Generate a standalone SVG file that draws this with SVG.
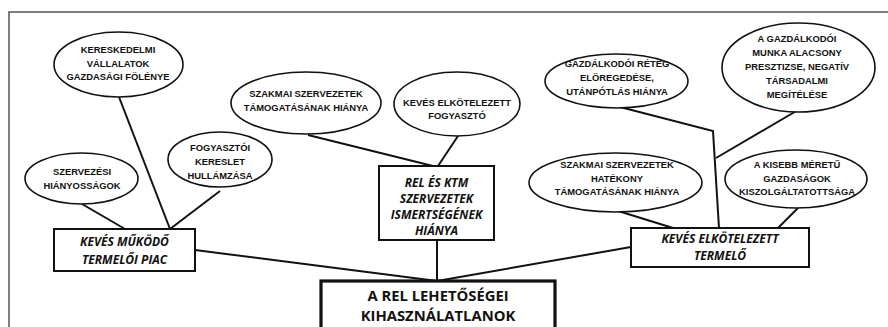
<svg xmlns="http://www.w3.org/2000/svg" width="888" height="327" viewBox="0 0 888 327">
<style>
.frame{fill:none;stroke:#555;stroke-width:1.5}
.ell{fill:#fff;stroke:#111;stroke-width:1.6}
.box{fill:#fff;stroke:#111;stroke-width:2}
.main{fill:#fff;stroke:#111;stroke-width:3.2}
.con{stroke:#111;stroke-width:2;fill:none}
.t{font-family:"Liberation Sans",Arial,sans-serif;font-weight:bold;font-size:9.4px;fill:#111;text-anchor:middle}
.bt{font-family:"Open Sans","Liberation Sans",sans-serif;font-weight:bold;font-style:italic;font-size:12px;fill:#111;text-anchor:middle}
.mt{font-family:"Open Sans","Liberation Sans",sans-serif;font-weight:bold;font-size:14.8px;fill:#111;text-anchor:middle}
</style>
<rect width="888" height="327" fill="#fff"/>
<path class="frame" d="M9,335 V12 H900"/>
<g id="connectors">
<line class="con" x1="119" y1="97" x2="170" y2="229"/>
<line class="con" x1="220" y1="191" x2="170" y2="229"/>
<line class="con" x1="82" y1="204" x2="125" y2="229"/>
<line class="con" x1="195" y1="250" x2="437" y2="281"/>
<line class="con" x1="631" y1="247" x2="437" y2="281"/>
<line class="con" x1="437" y1="240" x2="437" y2="281"/>
<line class="con" x1="308" y1="135" x2="433" y2="166"/>
<line class="con" x1="458" y1="136" x2="438" y2="166"/>
<polyline class="con" points="620,107 713,131 719,228"/>
<line class="con" x1="798" y1="110" x2="716" y2="158"/>
<line class="con" x1="615" y1="210" x2="673" y2="228"/>
<line class="con" x1="798" y1="208" x2="778" y2="228"/>
</g>
<g id="n-kereskedelmi">
<ellipse class="ell" cx="118.5" cy="64.5" rx="64.5" ry="32.5"/>
<text class="t" x="118" y="53">KERESKEDELMI</text>
<text class="t" x="118" y="66.5">VÁLLALATOK</text>
<text class="t" x="118" y="80">GAZDASÁGI FÖLÉNYE</text>
</g>
<g id="n-szakmai-tam">
<ellipse class="ell" cx="306" cy="103" rx="75" ry="31"/>
<text class="t" x="306" y="97">SZAKMAI SZERVEZETEK</text>
<text class="t" x="306" y="111">TÁMOGATÁSÁNAK HIÁNYA</text>
</g>
<g id="n-fogyaszto">
<ellipse class="ell" cx="457" cy="104" rx="63" ry="32"/>
<text class="t" x="457" y="105.5">KEVÉS ELKÖTELEZETT</text>
<text class="t" x="457" y="119">FOGYASZTÓ</text>
</g>
<g id="n-kereslet">
<ellipse class="ell" cx="220" cy="159.5" rx="52" ry="27.5"/>
<text class="t" x="220" y="151">FOGYASZTÓI</text>
<text class="t" x="220" y="165">KERESLET</text>
<text class="t" x="220" y="179">HULLÁMZÁSA</text>
</g>
<g id="n-szervezesi">
<ellipse class="ell" cx="81.5" cy="178.5" rx="56.5" ry="25.5"/>
<text class="t" x="82" y="175">SZERVEZÉSI</text>
<text class="t" x="82" y="189">HIÁNYOSSÁGOK</text>
</g>
<g id="n-gazd-reteg">
<ellipse class="ell" cx="616.5" cy="81" rx="71.5" ry="27"/>
<text class="t" x="617" y="67">GAZDÁLKODÓI RÉTEG</text>
<text class="t" x="617" y="81">ELÖREGEDÉSE,</text>
<text class="t" x="617" y="95">UTÁNPÓTLÁS HIÁNYA</text>
</g>
<g id="n-gazd-munka">
<ellipse class="ell" cx="798.5" cy="67.5" rx="76.5" ry="44.5"/>
<text class="t" x="797" y="42">A GAZDÁLKODÓI</text>
<text class="t" x="797" y="56">MUNKA ALACSONY</text>
<text class="t" x="797" y="70">PRESZTIZSE, NEGATÍV</text>
<text class="t" x="797" y="84">TÁRSADALMI</text>
<text class="t" x="797" y="98">MEGÍTÉLÉSE</text>
</g>
<g id="n-szakmai-hat">
<ellipse class="ell" cx="615.5" cy="182.5" rx="86.5" ry="29.5"/>
<text class="t" x="617" y="168">SZAKMAI SZERVEZETEK</text>
<text class="t" x="617" y="181.5">HATÉKONY</text>
<text class="t" x="617" y="195">TÁMOGATÁSÁNAK HIÁNYA</text>
</g>
<g id="n-kisebb">
<ellipse class="ell" cx="796" cy="179" rx="71" ry="29"/>
<text class="t" x="797" y="168">A KISEBB MÉRETŰ</text>
<text class="t" x="797" y="181.5">GAZDASÁGOK</text>
<text class="t" x="797" y="195">KISZOLGÁLTATOTTSÁGA</text>
</g>
<g id="n-piac">
<rect class="box" x="54" y="229" width="141" height="42"/>
<text class="bt" x="124.5" y="246">KEVÉS MŰKÖDŐ</text>
<text class="bt" x="124.5" y="264">TERMELŐI PIAC</text>
</g>
<g id="n-rel-ktm">
<rect class="box" x="379" y="166" width="115" height="74"/>
<text class="bt" x="436.5" y="186.5">REL ÉS KTM</text>
<text class="bt" x="436.5" y="202.5">SZERVEZETEK</text>
<text class="bt" x="436.5" y="218.5">ISMERTSÉGÉNEK</text>
<text class="bt" x="436.5" y="234.5">HIÁNYA</text>
</g>
<g id="n-termelo">
<rect class="box" x="631" y="228" width="178" height="39"/>
<text class="bt" x="720" y="243">KEVÉS ELKÖTELEZETT</text>
<text class="bt" x="720" y="259.5">TERMELŐ</text>
</g>
<g id="n-main">
<rect class="main" x="321" y="281" width="234" height="60"/>
<text class="mt" x="438" y="301">A REL LEHETŐSÉGEI</text>
<text class="mt" x="438" y="321">KIHASZNÁLATLANOK</text>
</g>
</svg>
